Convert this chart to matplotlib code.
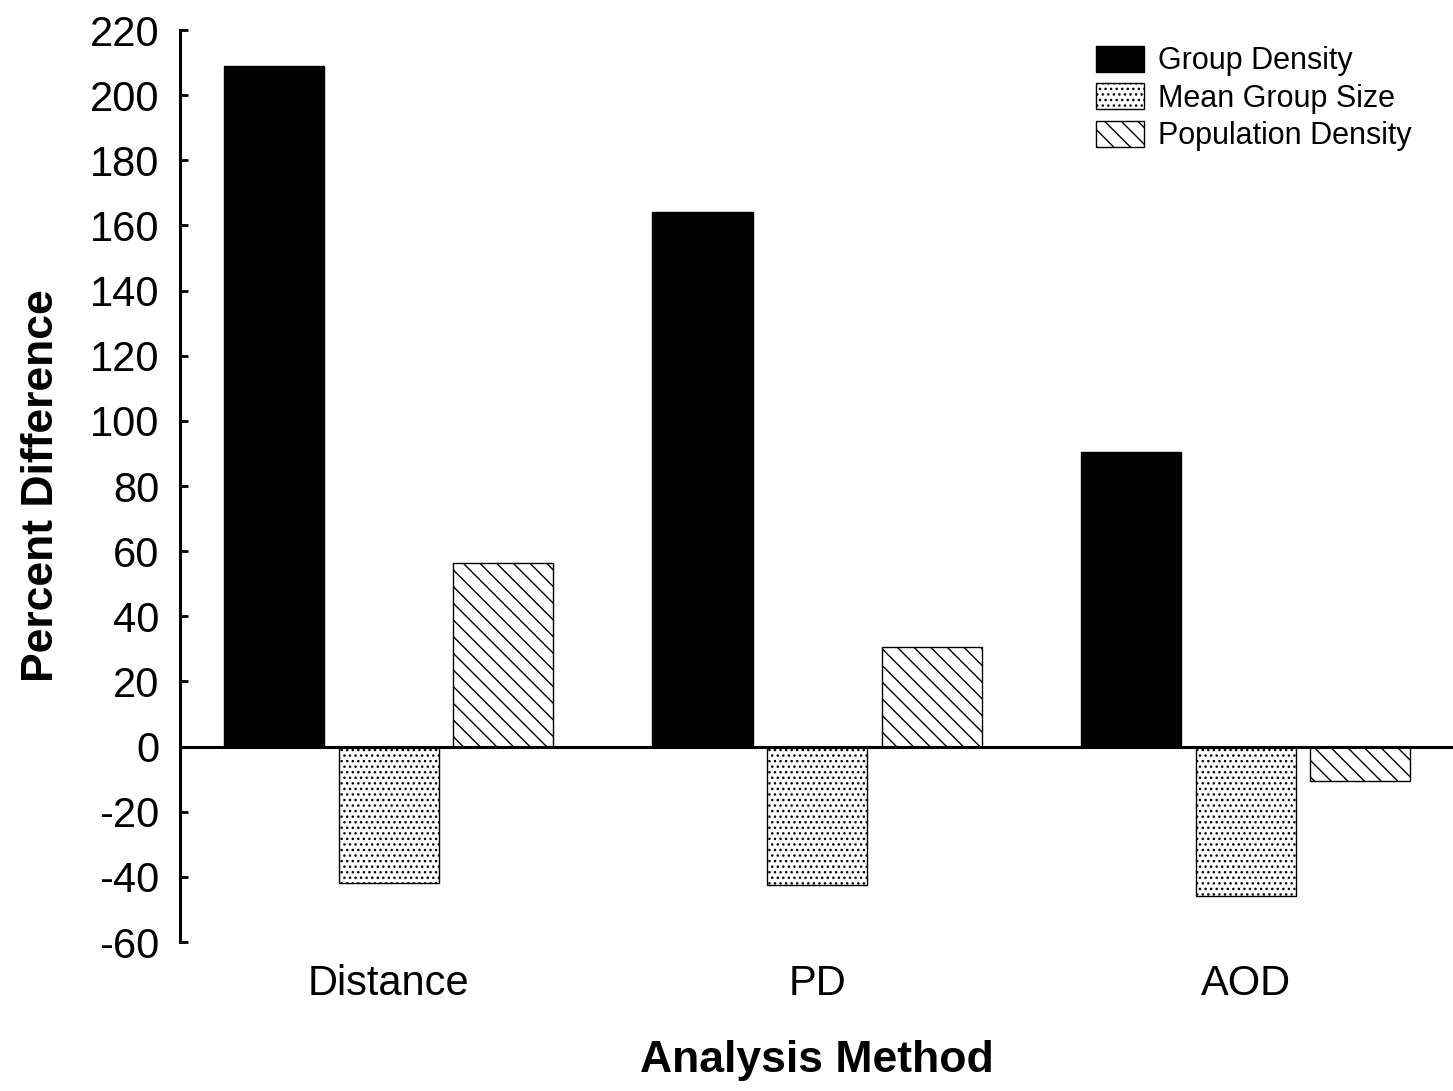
import numpy as np
import matplotlib.pyplot as plt

plt.rcParams["font.family"] = ["Liberation Sans", "DejaVu Sans"]
plt.rcParams["hatch.linewidth"] = 1.0
plt.rcParams["axes.unicode_minus"] = False

methods = ["Distance", "PD", "AOD"]
series_names = ["Group Density", "Mean Group Size", "Population Density"]
group_density = [209, 164, 90.5]
mean_group_size = [-42, -42.5, -46]
population_density = [56.5, 30.5, -10.5]
y_ticks = list(range(-60, 221, 20))


def main() -> None:
    fig = plt.figure(figsize=(14.53, 10.91), dpi=100)
    ax = fig.add_axes([180 / 1453, 1 - 942 / 1091, 1 - 180 / 1453, (942 - 30) / 1091])

    x = np.arange(len(methods))
    step = 0.2675
    width = 0.2336

    ax.bar(x - step, group_density, width, color="black", edgecolor="black",
           linewidth=1, label=series_names[0])
    ax.bar(x, mean_group_size, width, color="white", edgecolor="black",
           linewidth=1, hatch="...", label=series_names[1])
    ax.bar(x + step, population_density, width, color="white", edgecolor="black",
           linewidth=1, hatch="\\\\", label=series_names[2])

    ax.axhline(0, color="black", linewidth=2.2, zorder=5)

    ax.set_xlim(-0.487, 2.484)
    ax.set_ylim(-60, 220)
    ax.set_yticks(y_ticks)
    ax.set_xticks(x)
    ax.set_xticklabels(methods, fontsize=30)
    ax.tick_params(axis="x", length=0, pad=16)
    ax.tick_params(axis="y", direction="in", length=6, width=2, labelsize=30, pad=15)

    for side in ["top", "right", "bottom"]:
        ax.spines[side].set_visible(False)
    ax.spines["left"].set_linewidth(2.2)

    ax.set_xlabel("Analysis Method", fontsize=32, fontweight="bold", labelpad=26)
    ax.set_ylabel("Percent Difference", fontsize=32, fontweight="bold", labelpad=20)

    fig.legend(loc="upper left", bbox_to_anchor=(1096 / 1453, 1 - 46 / 1091),
               frameon=False, fontsize=22, borderpad=0, borderaxespad=0,
               handlelength=1.57, handleheight=0.92, handletextpad=0.45,
               labelspacing=0.23)

    fig.savefig("out.png", dpi=100)
    plt.close(fig)


if __name__ == "__main__":
    main()
